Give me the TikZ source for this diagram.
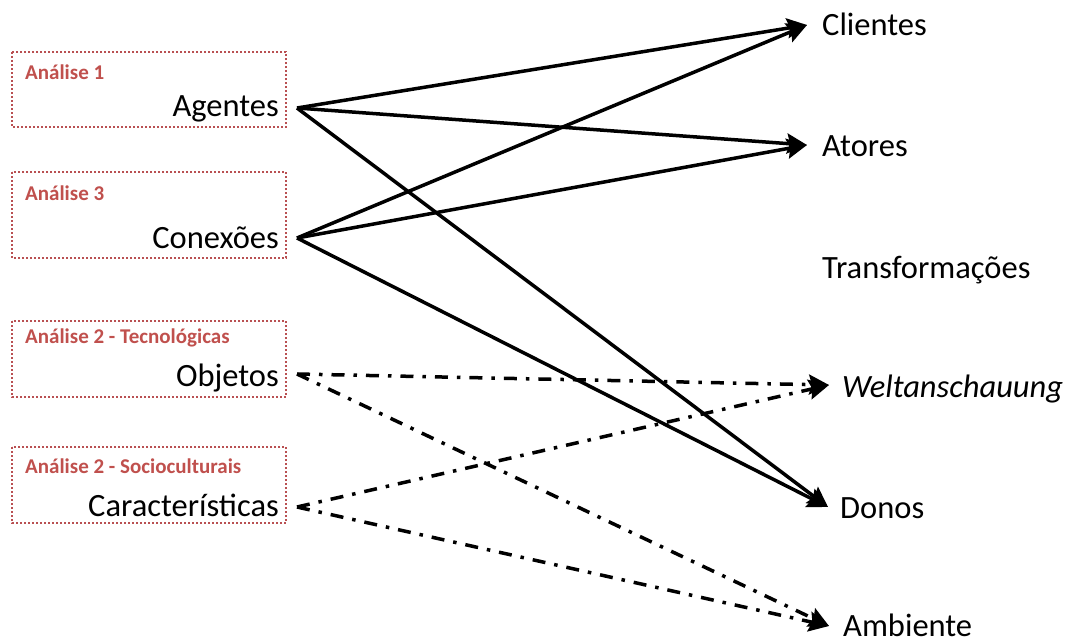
\documentclass[tikz,border=0pt]{standalone}
\usepackage{fontspec}
\setmainfont{Carlito}
\usetikzlibrary{arrows.meta}
\definecolor{boxred}{RGB}{185,80,82}
\definecolor{labelred}{RGB}{192,80,77}
\begin{document}
\begin{tikzpicture}[x=1pt,y=-1pt,
  groupbox/.style={draw=boxred, line width=2.2pt, dash pattern=on 2pt off 2pt},
  grouplabel/.style={anchor=west, inner sep=0pt, text=labelred,
    font=\fontsize{21}{25}\selectfont\bfseries},
  term/.style={inner sep=0pt, font=\fontsize{32.5}{38}\selectfont},
  link/.style={line width=3.5pt, -{Stealth[length=20pt,width=20pt,inset=3pt]}},
  weaklink/.style={link, dash pattern=on 13pt off 9pt on 3.5pt off 9pt}]
\useasboundingbox[fill=white] (0,0) rectangle (1067,642);

% analysis groups on the left
\draw[groupbox] (12,52) rectangle (286,127);
\node[grouplabel] (g1) at (25,72) {Análise 1};
\node[term, anchor=base east] (agentes) at (279,116) {Agentes};

\draw[groupbox] (12,172) rectangle (286,258);
\node[grouplabel] (g3) at (25,193) {Análise 3};
\node[term, anchor=base east] (conexoes) at (279,248) {Conexões};

\draw[groupbox] (12,321) rectangle (286,397);
\node[grouplabel] (g2t) at (25,338) {Análise 2 - Tecnológicas};
\node[term, anchor=base east] (objetos) at (279,386) {Objetos};

\draw[groupbox] (12,447) rectangle (286,523);
\node[grouplabel] (g2s) at (25,466) {Análise 2 - Socioculturais};
\node[term, anchor=base east] (caracteristicas) at (279,516) {Características};

% terms on the right
\node[term, anchor=base west] (clientes) at (822,36) {Clientes};
\node[term, anchor=base west] (atores) at (822,156) {Atores};
\node[term, anchor=base west] (transf) at (822,278) {Transformações};
\node[term, anchor=base west] (welt) at (842,397) {\itshape Weltanschauung};
\node[term, anchor=base west] (donos) at (840,518) {Donos};
\node[term, anchor=base west] (ambiente) at (843,636) {Ambiente};

% connector end points
\coordinate (agentes-out) at (297,108);
\coordinate (conexoes-out) at (297,238);
\coordinate (objetos-out) at (297,374);
\coordinate (caract-out) at (297,507);
\coordinate (clientes-in) at (807,25);
\coordinate (atores-in) at (807,145);
\coordinate (welt-in) at (829,385);
\coordinate (donos-in) at (828,507);
\coordinate (ambiente-in) at (829,626);

% solid links
\draw[link] (agentes-out) -- (clientes-in);
\draw[link] (agentes-out) -- (atores-in);
\draw[link] (agentes-out) -- (donos-in);
\draw[link] (conexoes-out) -- (clientes-in);
\draw[link] (conexoes-out) -- (atores-in);
\draw[link] (conexoes-out) -- (donos-in);

% dash-dot links
\draw[weaklink] (objetos-out) -- (welt-in);
\draw[weaklink] (objetos-out) -- (ambiente-in);
\draw[weaklink] (caract-out) -- (welt-in);
\draw[weaklink] (caract-out) -- (ambiente-in);
\end{tikzpicture}
\end{document}
